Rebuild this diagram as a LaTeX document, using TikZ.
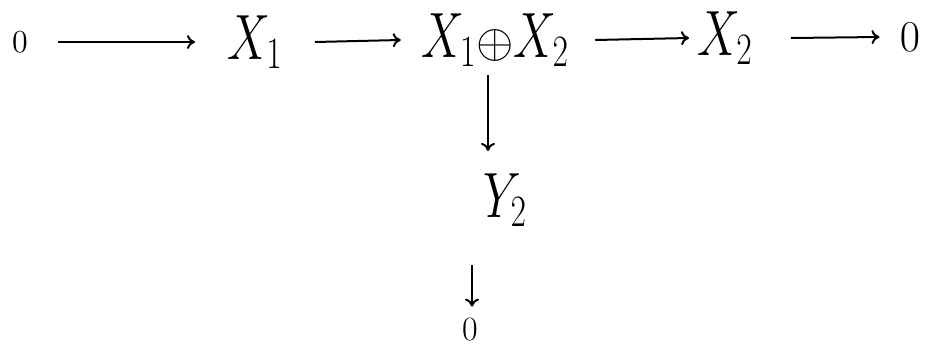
\RequirePackage{fix-cm}
\documentclass[tikz,border=0pt]{standalone}
\usepackage{graphicx}
\usetikzlibrary{arrows.meta}
\newcommand{\hwtext}[1]{\scalebox{0.75}[1]{$#1$}}
\begin{document}
\begin{tikzpicture}[x=0.5pt,y=-0.5pt,
  obj/.style={inner sep=0pt,font=\fontsize{32}{38}\selectfont},
  zero/.style={inner sep=0pt},
  map/.style={line width=1pt,-{To[length=4pt,width=7pt]}}]
\useasboundingbox (0,0) rectangle (947,359);
\node[zero,font=\fontsize{16}{20}\selectfont] (z1) at (20,42) {$0$};
\node[obj] (x1) at (255,42) {\hwtext{X_1}};
\node[obj] (s) at (495,40) {\hwtext{X_1}{\fontsize{24}{28}\selectfont$\oplus$}\hwtext{X_2}};
\node[obj] (x2) at (725,38) {\hwtext{X_2}};
\node[zero,font=\fontsize{22}{26}\selectfont] (z2) at (910,37) {$0$};
\node[obj] (y2) at (505,200) {\hwtext{Y_2}};
\node[zero,font=\fontsize{17}{20}\selectfont] (z3) at (470,330) {$0$};
\draw[map] ([xshift=15pt]z1.east) -- ([xshift=-16pt]x1.west);
\draw[map] ([xshift=16pt]x1.east) -- ([xshift=-10pt]s.west);
\draw[map] ([xshift=13pt]s.east) -- ([xshift=-4pt]x2.west);
\draw[map] ([xshift=19pt]x2.east) -- ([xshift=-10pt]z2.west);
\draw[map] ([xshift=-3.5pt,yshift=-4pt]s.south) -- ([xshift=-8.5pt,yshift=11pt]y2.north);
\draw[map] ([xshift=-16.5pt,yshift=-19pt]y2.south) -- ([xshift=1pt,yshift=6pt]z3.north);
\end{tikzpicture}
\end{document}
